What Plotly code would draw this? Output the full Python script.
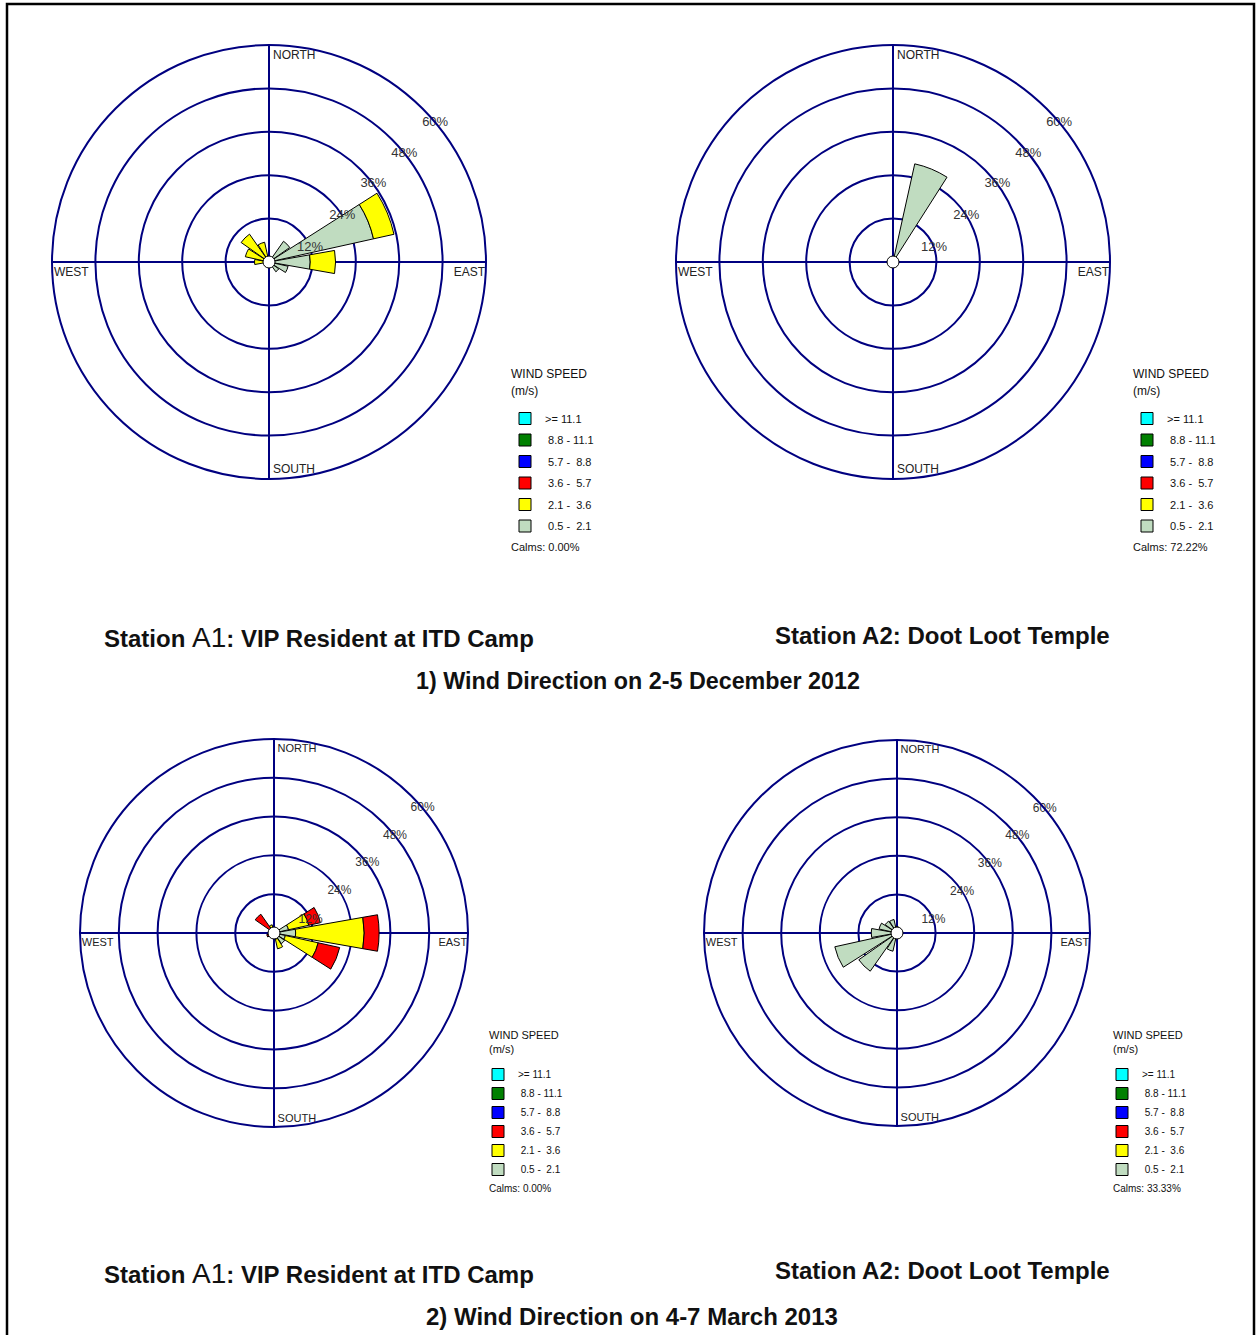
import math
import plotly.graph_objects as go

W, H = 1256, 1335

DIRECTIONS = ["N", "NNE", "NE", "ENE", "E", "ESE", "SE", "SSE",
              "S", "SSW", "SW", "WSW", "W", "WNW", "NW", "NNW"]
ANGLES = [i * 22.5 for i in range(len(DIRECTIONS))]

SPEED_BINS = ["0.5 -  2.1", "2.1 -  3.6", "3.6 -  5.7", "5.7 -  8.8", "8.8 - 11.1", ">= 11.1"]
BIN_COLORS = ["#c0dcc0", "#ffff00", "#ff0000", "#0000ff", "#008000", "#00ffff"]

RING_TICKS = [12, 24, 36, 48, 60]
COMPASS = ["NORTH", "EAST", "SOUTH", "WEST"]

# frequencies (%) per direction, one list per speed bin (only non-empty bins listed)
a1_dec_05_21 = [0, 0, 7.0, 29.6, 11.4, 5.4, 3.3, 0, 0, 0, 0, 0, 0, 0, 0, 0]
a1_dec_21_36 = [0, 0, 0, 5.8, 7.0, 0, 0, 0, 0, 0, 0, 0, 4.0, 6.7, 9.4, 5.6]
a1_dec_calms = "0.00%"

a2_dec_05_21 = [0, 27.8, 0, 0, 0, 0, 0, 0, 0, 0, 0, 0, 0, 0, 0, 0]
a2_dec_calms = "72.22%"

a1_mar_05_21 = [0, 0, 0, 4.6, 6.7, 3.6, 4.0, 2.0, 1.5, 0, 0, 0, 0, 0, 0, 0]
a1_mar_21_36 = [0, 0, 0, 6.4, 21.2, 10.4, 0, 3.0, 0, 0, 0, 0, 0, 0, 0, 2.6]
a1_mar_36_57 = [0, 0, 0, 3.7, 4.6, 6.8, 0, 0, 0, 0, 0, 2.3, 0, 0, 7.1, 0]
a1_mar_calms = "0.00%"

a2_mar_05_21 = [2.0, 0, 0, 0, 1.5, 0, 0, 0, 0, 5.8, 14.5, 19.8, 8.0, 5.7, 4.5, 4.3]
a2_mar_calms = "33.33%"

STATION_A1 = "<b>Station </b><span style='font-size:28px'>A1</span><b>: VIP Resident at ITD Camp</b>"
STATION_A2 = "<b>Station A2: Doot Loot Temple</b>"
PERIOD_1 = "<b>1) Wind Direction on 2-5 December 2012</b>"
PERIOD_2 = "<b>2) Wind Direction on 4-7 March 2013</b>"

FONT = "Arial, Liberation Sans, sans-serif"
NAVY = "#000080"

roses = [
    # (bins, calms, centre x px, centre y px, radius px, legend x px, legend title x/y px, small)
    ([a1_dec_05_21, a1_dec_21_36], a1_dec_calms, 269, 262, 217, 505, 509, 374, False),
    ([a2_dec_05_21], a2_dec_calms, 893, 262, 217, 1127, 1131, 374, False),
    ([a1_mar_05_21, a1_mar_21_36, a1_mar_36_57], a1_mar_calms, 274, 933, 194, 478, 487, 1035, True),
    ([a2_mar_05_21], a2_mar_calms, 897, 933, 193, 1102, 1111, 1035, True),
]


def rt(dx, dy, rad):
    # pixel offset from the rose centre -> (r, theta) on the 0-60 radial scale
    return math.hypot(dx, dy) / rad * 60, math.degrees(math.atan2(dx, -dy)) % 360


fig = go.Figure()
layout_extra = {}
annotations = []

for i, (bins, calms, cx, cy, rad, lx, tx, ty, small) in enumerate(roses, start=1):
    pname = "polar" if i == 1 else f"polar{i}"
    lname = "legend" if i == 1 else f"legend{i}"
    zero = [0] * len(DIRECTIONS)
    for b, (label, color) in enumerate(zip(SPEED_BINS, BIN_COLORS)):
        r = bins[b] if b < len(bins) else zero
        name = label.replace(" ", "\u00a0")
        if not label.startswith(">"):
            name = "\u00a0" + name
        fig.add_trace(go.Barpolar(
            r=r, theta=ANGLES, width=20, name=name,
            marker=dict(color=color, line=dict(color="black", width=1)),
            subplot=pname, legend=lname, legendgroup=f"{i}-{b}", legendrank=10 - b,
            hoverinfo="skip",
        ))
    # ring labels along the NE diagonal
    off = 5.2
    fig.add_trace(go.Scatterpolar(
        r=RING_TICKS, theta=[45 + math.degrees(math.asin(off / t)) for t in RING_TICKS],
        mode="text", text=[f"{t}%" for t in RING_TICKS],
        textfont=dict(family=FONT, size=13 if not small else 12, color="#333333"),
        subplot=pname, showlegend=False, hoverinfo="skip",
    ))
    # compass labels
    k = rad / 217
    pts = [rt(4 * k, -206 * k, rad), rt(216 * k, 5 * k, rad),
           rt(4 * k, 208 * k, rad), rt(-215 * k, 5 * k, rad)]
    fig.add_trace(go.Scatterpolar(
        r=[p[0] for p in pts], theta=[p[1] for p in pts], mode="text",
        text=COMPASS, cliponaxis=False,
        textposition=["middle right", "bottom left", "middle right", "bottom right"],
        textfont=dict(family=FONT, size=12 if not small else 11, color="#222222"),
        subplot=pname, showlegend=False, hoverinfo="skip",
    ))
    # centre circle
    fig.add_trace(go.Scatterpolar(
        r=[0], theta=[0], mode="markers",
        marker=dict(size=12, color="white", line=dict(color="black", width=1)),
        subplot=pname, showlegend=False, hoverinfo="skip",
    ))
    layout_extra[pname] = dict(
        domain=dict(x=[(cx - rad) / W, (cx + rad) / W],
                    y=[1 - (cy + rad) / H, 1 - (cy - rad) / H]),
        bgcolor="white",
        barmode="stack",
        radialaxis=dict(range=[0, 60], tickvals=RING_TICKS[:-1], showticklabels=False,
                        showline=False, ticks="", gridcolor=NAVY, gridwidth=2),
        angularaxis=dict(direction="clockwise", rotation=90, tickvals=[0, 90, 180, 270],
                         showticklabels=False, ticks="", gridcolor=NAVY, gridwidth=2,
                         linecolor=NAVY, linewidth=2),
    )
    fsize = 11 if not small else 10
    first_item = 416 if not small else 1072
    layout_extra[lname] = dict(
        x=lx / W, y=1 - (first_item - 12) / H, xanchor="left", yanchor="top",
        traceorder="grouped", tracegroupgap=2.5 if not small else 0,
        font=dict(family=FONT, size=fsize, color="#111"),
        bgcolor="rgba(0,0,0,0)", itemclick=False, itemdoubleclick=False,
    )
    line_gap = 17 if not small else 14
    for j, txt in enumerate(["WIND SPEED", "(m/s)"]):
        annotations.append(dict(
            text=txt, x=tx / W, y=1 - (ty + j * line_gap) / H,
            xref="paper", yref="paper", xanchor="left", yanchor="middle", showarrow=False,
            font=dict(family=FONT, size=fsize + 1, color="#111"),
        ))
    annotations.append(dict(
        text=f"Calms: {calms}", x=tx / W, y=1 - (547 if not small else 1188) / H,
        xref="paper", yref="paper", xanchor="left", yanchor="middle", showarrow=False,
        font=dict(family=FONT, size=fsize, color="#111"),
    ))

titles = [
    (STATION_A1, 102, 637, "left", 24),
    (STATION_A2, 773, 635, "left", 24),
    (PERIOD_1, 638, 681, "center", 23.3),
    (STATION_A1, 102, 1273, "left", 24),
    (STATION_A2, 773, 1270, "left", 24),
    (PERIOD_2, 632, 1316, "center", 24),
]
for text, x, y, anchor, size in titles:
    annotations.append(dict(
        text=text, x=x / W, y=1 - y / H, xref="paper", yref="paper",
        xanchor=anchor, yanchor="middle", showarrow=False,
        font=dict(family=FONT, size=size, color="#111"),
    ))

fig.update_layout(
    width=W, height=H, margin=dict(l=0, r=0, t=0, b=0),
    paper_bgcolor="white", showlegend=True,
    annotations=annotations,
    shapes=[dict(type="rect", xref="paper", yref="paper",
                 x0=7 / W, x1=1254 / W, y0=-0.01, y1=1 - 4 / H,
                 line=dict(color="black", width=2.5))],
    **layout_extra,
)

fig.write_html("out.html", config={"displayModeBar": False},
               post_script="document.body.style.margin='0';")
